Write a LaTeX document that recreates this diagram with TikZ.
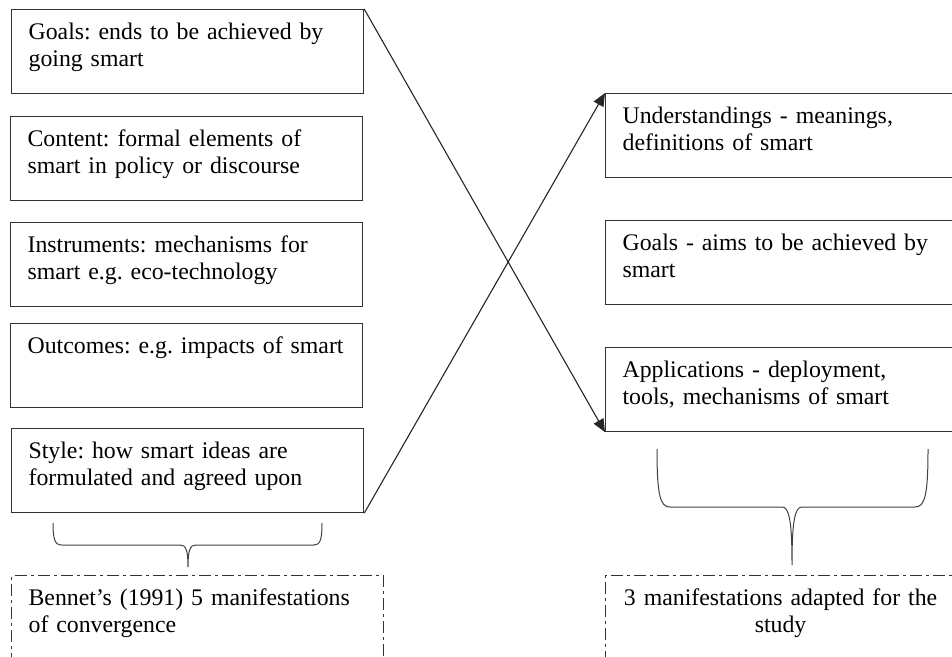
\documentclass[tikz,border=0pt]{standalone}
\usepackage{fontspec}
\setmainfont{Liberation Serif}
\usetikzlibrary{arrows.meta}
\tikzset{
  box/.style={draw=black!80, line width=0.6pt, anchor=north west,
    text width=159pt, inner xsep=8.5pt, inner ysep=6pt, align=left,
    text height=9pt, text depth=21pt,
    font=\fontsize{11.9}{13.5}\selectfont\frenchspacing},
  rbox/.style={box, text width=158pt},
  dashbox/.style={box, dash pattern=on 6pt off 2pt on 1.5pt off 2pt, text depth=40pt},
  arr/.style={-{Triangle[length=6.5pt,width=5.5pt]}, line width=0.55pt, black!85},
  brace/.style={line width=0.5pt, black!75}
}

\begin{document}
\begin{tikzpicture}[x=0.5pt,y=-0.5pt]
  \useasboundingbox (0,0) rectangle (952,657);
  \clip (0,0) rectangle (952,657);

  % Bennet's five manifestations
  \node[box] (lgoals) at (11,9) {Goals: ends to be achieved by\\going smart};
  \node[box] (lcontent) at (10,116) {Content: formal elements of\\smart in policy or discourse};
  \node[box] (linstr) at (10,222) {Instruments: mechanisms for\\smart e.g. eco-technology};
  \node[box] (loutcome) at (10,323) {Outcomes: e.g. impacts of smart};
  \node[box] (lstyle) at (11,428) {Style: how smart ideas are\\formulated and agreed upon};

  % adapted manifestations
  \node[rbox] (runder) at (605,93) {Understandings - meanings,\\definitions of smart};
  \node[rbox] (rgoals) at (605,220) {Goals - aims to be achieved by\\smart};
  \node[rbox] (rapps) at (605,347) {Applications - deployment,\\tools, mechanisms of smart};

  \draw[arr] (lgoals.north east) -- (rapps.south west);
  \draw[arr] (lstyle.south east) -- (runder.north west);

  % braces
  \draw[brace] (53,523) .. controls (53,540) and (55,545) .. (62,545) -- (180,545)
    .. controls (186,545) and (188,550) .. (188,567)
    .. controls (188,550) and (190,545) .. (196,545) -- (314,545)
    .. controls (320,545) and (322,540) .. (322,523);
  \draw[brace] (657,449) .. controls (657,495) and (660,507) .. (670,507) -- (782,507)
    .. controls (789,507) and (792,520) .. (792,565)
    .. controls (792,520) and (795,507) .. (802,507) -- (915,507)
    .. controls (925,507) and (928,495) .. (928,449);

  \node[dashbox, text width=169pt] (bennet) at (11,575) {Bennet’s (1991) 5 manifestations\\of convergence};
  \node[dashbox, text width=158pt, align=center] (adapted) at (605,575) {3 manifestations adapted for the\\study};
\end{tikzpicture}
\end{document}
